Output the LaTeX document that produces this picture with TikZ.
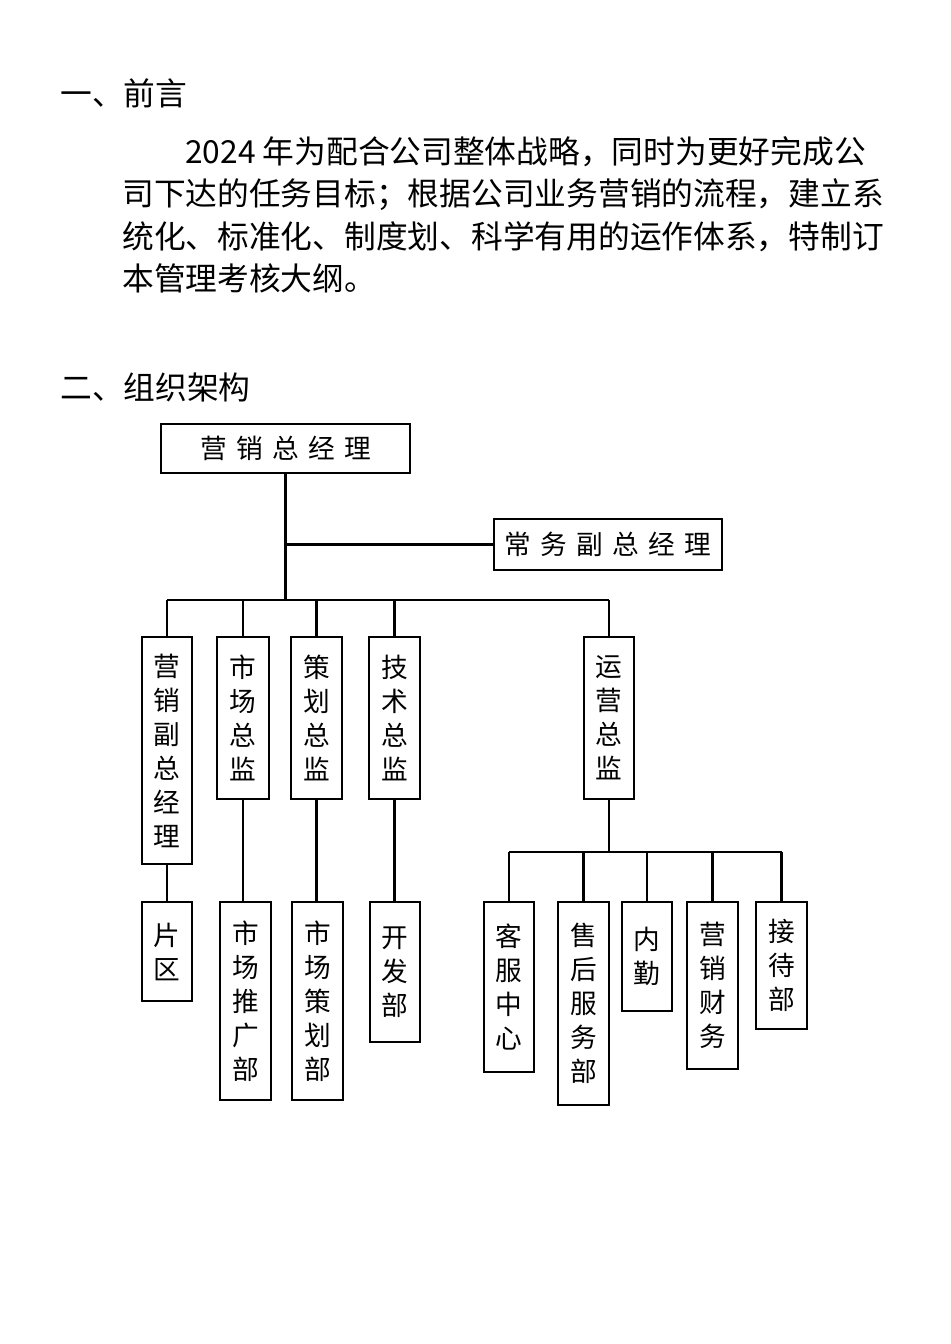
\documentclass[tikz,border=0pt]{standalone}
\usepackage{fontspec}
\setmainfont{Noto Sans CJK SC}
\begin{document}
\begin{tikzpicture}[x=0.75pt,y=-0.75pt,
  box/.style={draw,line width=1.5pt,inner sep=0pt,font=\fontsize{20}{25.5}\selectfont,align=center},
  ln/.style={line width=1.7pt},
  txt/.style={anchor=west,inner sep=0pt,font=\fontsize{23.8}{30}\selectfont}]
\useasboundingbox (0,0) rectangle (950,1344);
\newcommand\vbx[6]{\node[box, minimum width={(#4-#2)*0.75pt}, minimum height={(#5-#3)*0.75pt}] (#1) at ({(#2+#4)/2},{(#3+#5)/2}) {#6};}
\newcommand\gp{\hspace{7pt}}
\node[txt] (h1) at (60,93) {一、前言};
\node[txt] (p1) at (185,152) {2024 年为配合公司整体战略，同时为更好完成公};
\node[txt] (p2) at (122,195) {司下达的任务目标；根据公司业务营销的流程，建立系};
\node[txt] (p3) at (122,237) {统化、标准化、制度划、科学有用的运作体系，特制订};
\node[txt] (p4) at (122,278) {本管理考核大纲。};
\node[txt] (h2) at (60,387) {二、组织架构};
\vbx{top}{161}{424}{410}{473}{营\gp 销\gp 总\gp 经\gp 理}
\vbx{fu}{494}{519}{722}{570}{常\gp 务\gp 副\gp 总\gp 经\gp 理}
\vbx{v1}{142}{637}{192}{864}{营\\销\\副\\总\\经\\理}
\vbx{v2}{217}{637}{269}{799}{市\\场\\总\\监}
\vbx{v3}{291}{637}{342}{799}{策\\划\\总\\监}
\vbx{v4}{369}{637}{420}{799}{技\\术\\总\\监}
\vbx{v5}{584}{637}{634}{799}{运\\营\\总\\监}
\vbx{l1}{142}{902}{192}{1001}{片\\区}
\vbx{l2}{220}{902}{271}{1100}{市\\场\\推\\广\\部}
\vbx{l3}{292}{902}{343}{1100}{市\\场\\策\\划\\部}
\vbx{l4}{370}{902}{420}{1042}{开\\发\\部}
\vbx{c1}{484}{902}{534}{1072}{客\\服\\中\\心}
\vbx{c2}{558}{902}{609}{1105}{售\\后\\服\\务\\部}
\vbx{c3}{622}{902}{672}{1011}{内\\勤}
\vbx{c4}{687}{902}{738}{1069}{营\\销\\财\\务}
\vbx{c5}{756}{902}{807}{1029}{接\\待\\部}
\coordinate (b1) at (285,600);
\coordinate (b2) at (609,852);
\draw[ln] (top.south) -- (top.south|-b1);
\draw[ln] (top.south|-fu.west) -- (fu.west);
\draw[ln] (v1.north|-b1) -- (v5.north|-b1);
\foreach \n in {v1,v2,v3,v4,v5} \draw[ln] (\n.north|-b1) -- (\n.north);
\draw[ln] (v1.south) -- (l1.north);
\draw[ln] (v2.south) -- (v2.south|-l2.north);
\draw[ln] (v3.south) -- (v3.south|-l3.north);
\draw[ln] (v4.south) -- (v4.south|-l4.north);
\draw[ln] (v5.south) -- (v5.south|-b2);
\draw[ln] (c1.north|-b2) -- (c5.north|-b2);
\foreach \n in {c1,c2,c3,c4,c5} \draw[ln] (\n.north|-b2) -- (\n.north);
\end{tikzpicture}
\end{document}
